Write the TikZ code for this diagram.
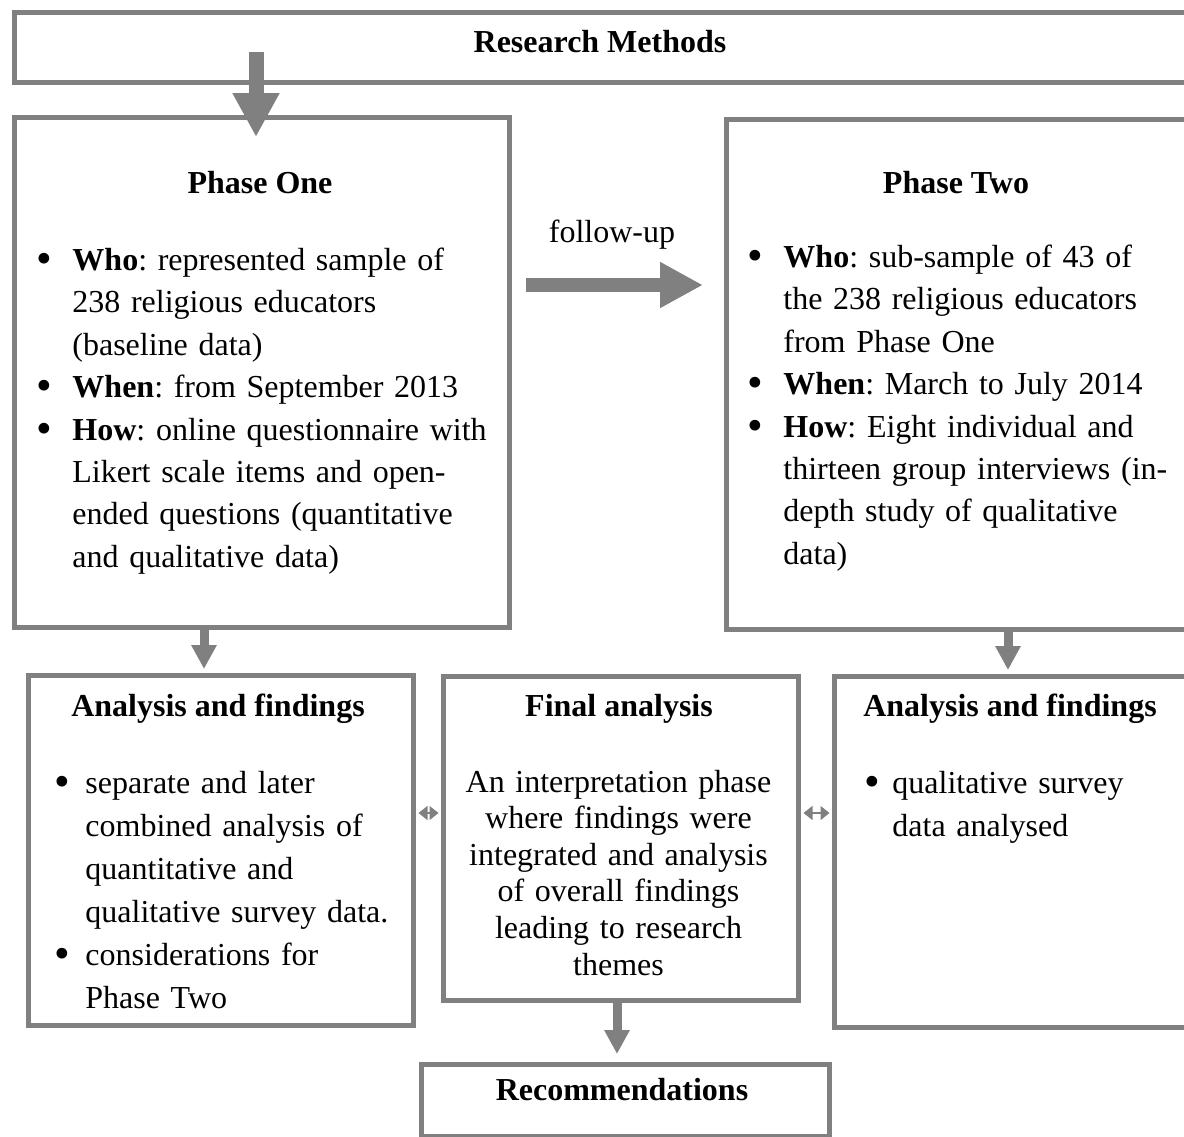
\documentclass[tikz,border=0pt]{standalone}
\usepackage{fontspec}
\setmainfont{Liberation Serif}
\usepackage{graphicx}
\usepackage{enumitem}
\usetikzlibrary{arrows.meta}
\definecolor{boxgray}{RGB}{128,128,128}
\newcommand{\bigbullet}{\raisebox{-0.1em}{\scalebox{1.4}{\textbullet}}}
\setlist[itemize]{label=\bigbullet,nosep,align=left,labelwidth=7.8pt}

\tikzset{
  box/.style={draw=boxgray,line width=2.5pt,anchor=north west,inner sep=0pt},
  title/.style={font=\fontsize{16}{19}\selectfont\bfseries,anchor=base},
  body/.style={font=\fontsize{16}{21.2}\selectfont\frenchspacing,anchor=base west,inner sep=0pt,text width=240pt,align=left},
  bigarrow/.style={draw=boxgray,line width=7.5pt,-{Triangle[width=22pt,length=22pt]}},
  downarrow/.style={draw=boxgray,line width=4.5pt,-{Triangle[width=12pt,length=12pt]}},
  linkarrow/.style={draw=boxgray,line width=0.6pt,{Triangle[width=7pt,length=4.5pt]}-{Triangle[width=7pt,length=4.5pt]},shorten <=1.25pt,shorten >=1.25pt}
}

\begin{document}
\begin{tikzpicture}[x=0.5pt,y=-0.5pt]
\useasboundingbox (0,0) rectangle (1184,1136);
\clip (0,0) rectangle (1184,1136);

% boxes
\node[box,minimum width=594pt,minimum height=35pt] (rm) at (12,10) {};
\node[box,minimum width=247.5pt,minimum height=255pt] (p1) at (12,115) {};
\node[box,minimum width=238pt,minimum height=255pt] (p2) at (724,117) {};
\node[box,minimum width=192.5pt,minimum height=175pt] (a1) at (26,673) {};
\node[box,minimum width=177.5pt,minimum height=162pt] (fin) at (441,674) {};
\node[box,minimum width=184pt,minimum height=175.5pt] (a2) at (832,674) {};
\node[box,minimum width=204pt,minimum height=36pt] (rec) at (419,1062) {};

% titles
\node[title] (rmt) at (600,52) {Research Methods};
\node[title] (p1t) at (260,193) {Phase One};
\node[title] (p2t) at (956,193) {Phase Two};
\node[title] (a1t) at (218,716) {Analysis and findings};
\node[title] (fint) at (619,716) {Final analysis};
\node[title] (a2t) at (1010,716) {Analysis and findings};
\node[title] (rect) at (622,1100) {Recommendations};
\node[font=\fontsize{16}{19}\selectfont,anchor=base] (fu) at (612,242) {follow-up};

% contents
\node[body] (p1b) at (36,228) {\raggedright
\begin{itemize}[leftmargin=18pt,labelsep=10.2pt]
\item \textbf{Who}: represented sample of\newline 238 religious educators\newline (baseline data)
\item \textbf{When}: from September 2013
\item \textbf{How}: online questionnaire with\newline Likert scale items and open-\newline ended questions (quantitative\newline and qualitative data)
\end{itemize}};
\node[body] (p2b) at (747,225) {\raggedright
\begin{itemize}[leftmargin=18pt,labelsep=10.2pt]
\item \textbf{Who}: sub-sample of 43 of\newline the 238 religious educators\newline from Phase One
\item \textbf{When}: March to July 2014
\item \textbf{How}: Eight individual and\newline thirteen group interviews (in-\newline depth study of qualitative\newline data)
\end{itemize}};
\node[body,font=\fontsize{16}{21.5}\selectfont\frenchspacing] (a1b) at (54.5,750) {\raggedright
\begin{itemize}[leftmargin=15.25pt,labelsep=7.45pt]
\item separate and later\newline combined analysis of\newline quantitative and\newline qualitative survey data.
\item considerations for\newline Phase Two
\end{itemize}};
\node[body,font=\fontsize{16}{18.3}\selectfont,anchor=base,align=center,text width=175pt] (finb) at (618.5,792)
  {An interpretation phase\\ where findings were\\ integrated and analysis\\ of overall findings\\ leading to research\\ themes};
\node[body,font=\fontsize{16}{21.5}\selectfont\frenchspacing] (a2b) at (864.5,750) {\raggedright
\begin{itemize}[leftmargin=13.75pt,labelsep=5.95pt]
\item qualitative survey\newline data analysed
\end{itemize}};

% connectors
\coordinate (rmarr) at (256,52);
\coordinate (fuarr) at (526,285);
\coordinate (d1) at (204,0);
\coordinate (d2) at (1008,0);
\coordinate (d3) at (617,0);
\coordinate (lk) at (0,813);
\draw[bigarrow] (rmarr) -- ([yshift=-11pt]rmarr |- p1.north);
\draw[bigarrow,line width=7pt,-{Triangle[width=21.5pt,length=21.5pt]}] (fuarr) -- ([xshift=-10.5pt]fuarr -| p2.west);
\draw[downarrow] (d1 |- p1.south) -- ([yshift=2pt]d1 |- a1.north);
\draw[downarrow] (d2 |- p2.south) -- ([yshift=2pt]d2 |- a2.north);
\draw[downarrow] (d3 |- fin.south) -- ([yshift=4pt]d3 |- rec.north);
\draw[linkarrow] (lk -| a1.east) -- (lk -| fin.west);
\draw[linkarrow] (lk -| fin.east) -- (lk -| a2.west);
\end{tikzpicture}
\end{document}
